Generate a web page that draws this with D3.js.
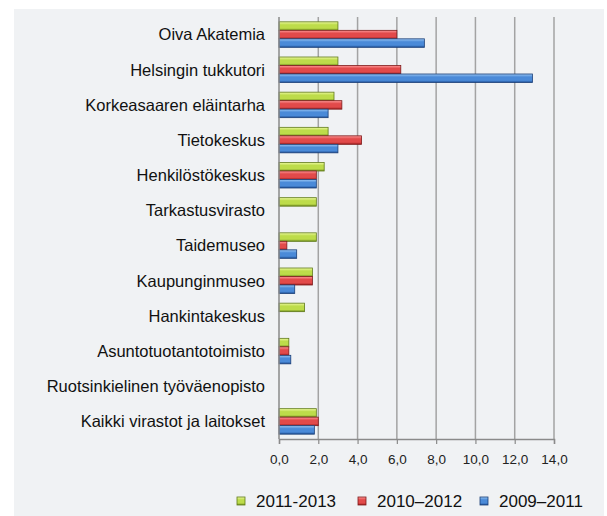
<!DOCTYPE html>
<html><head><meta charset="utf-8">
<script src="https://cdn.jsdelivr.net/npm/d3@7"></script>
<style>html,body{margin:0;padding:0;background:#fff;}svg{display:block;}</style>
</head><body>
<svg id="c" width="607" height="516"></svg>
<script>
const categories = ["Oiva Akatemia","Helsingin tukkutori","Korkeasaaren eläintarha","Tietokeskus","Henkilöstökeskus","Tarkastusvirasto","Taidemuseo","Kaupunginmuseo","Hankintakeskus","Asuntotuotantotoimisto","Ruotsinkielinen työväenopisto","Kaikki virastot ja laitokset"];
const seriesNames = ["2011-2013","2010–2012","2009–2011"];
const s2011_2013 = [3.0, 3.0, 2.8, 2.5, 2.3, 1.9, 1.9, 1.7, 1.3, 0.5, 0, 1.9];
const s2010_2012 = [6.0, 6.2, 3.2, 4.2, 1.9, 0, 0.4, 1.7, 0, 0.5, 0, 2.0];
const s2009_2011 = [7.4, 12.9, 2.5, 3.0, 1.9, 0, 0.9, 0.8, 0, 0.6, 0, 1.8];
const xTicks = [0,2,4,6,8,10,12,14];

const seriesValues = [s2011_2013, s2010_2012, s2009_2011];
const palettes = [
  {top:"#eefaa0", mid:"#bddc4a", bot:"#6f8c1e", edge:"#5f7a18"},
  {top:"#ff9a9a", mid:"#e24a4a", bot:"#9c1f1f", edge:"#7e1a1a"},
  {top:"#9cc9f5", mid:"#4a8ad8", bot:"#1e4e94", edge:"#1a3f78"}
];

const svg = d3.select("#c");
svg.append("rect").attr("x",14).attr("y",9).attr("width",590).attr("height",507).attr("fill","#f0f2f4");

const defs = svg.append("defs");
palettes.forEach((p,i)=>{
  const g = defs.append("linearGradient").attr("id","g"+i).attr("x1",0).attr("y1",0).attr("x2",0).attr("y2",1);
  g.append("stop").attr("offset","0%").attr("stop-color",p.top);
  g.append("stop").attr("offset","35%").attr("stop-color",p.mid);
  g.append("stop").attr("offset","75%").attr("stop-color",p.mid);
  g.append("stop").attr("offset","100%").attr("stop-color",p.bot);
});

const x = d3.scaleLinear().domain([0,14]).range([279,554]);
const y = d3.scaleBand().domain(categories).range([17,439]).paddingInner(0.275).paddingOuter(0.1375);
const ys = d3.scaleBand().domain(d3.range(3)).range([0,y.bandwidth()]);

// gridlines
svg.append("g").selectAll("line").data(xTicks.slice(1)).join("line")
  .attr("x1",d=>x(d)).attr("x2",d=>x(d)).attr("y1",17).attr("y2",439)
  .attr("stroke","#a3a3a3").attr("stroke-width",1.5);

// bars
const groups = svg.append("g").selectAll("g").data(categories).join("g")
  .attr("transform",c=>`translate(0,${y(c)})`);
groups.each(function(c,ci){
  const g = d3.select(this);
  seriesValues.forEach((vals,si)=>{
    const v = vals[ci];
    if(v<=0) return;
    const w = x(v)-x(0);
    g.append("rect").attr("x",x(0)).attr("y",ys(si)).attr("width",w).attr("height",ys.bandwidth())
      .attr("fill",`url(#g${si})`).attr("stroke",palettes[si].edge).attr("stroke-width",0.8);
  });
});

// x axis
const xAxis = d3.axisBottom(x).tickValues(xTicks).tickSize(5).tickPadding(10)
  .tickFormat(d=>d3.format(".1f")(d).replace(".",","));
const ax = svg.append("g").attr("transform","translate(0,439)").call(xAxis);
ax.select(".domain").attr("stroke","#8a8a8a").attr("stroke-width",1.5);
ax.selectAll(".tick line").attr("stroke","#8a8a8a").attr("stroke-width",1.2);
ax.selectAll("text").attr("font-family","'Liberation Sans', Arial, sans-serif").attr("font-size",13.5).attr("fill","#222");

// y axis line
svg.append("line").attr("x1",279).attr("x2",279).attr("y1",17).attr("y2",439).attr("stroke","#8a8a8a").attr("stroke-width",1.5);

// category labels
svg.append("g").selectAll("text").data(categories).join("text")
  .attr("x",265).attr("y",c=>y(c)+y.bandwidth()/2).attr("dy","0.35em")
  .attr("text-anchor","end").attr("font-family","'Liberation Sans', Arial, sans-serif")
  .attr("font-size",16.5).attr("fill","#111").text(c=>c);

// legend
const legendX = [237, 358, 480];
const lg = svg.append("g").selectAll("g").data(seriesNames).join("g")
  .attr("transform",(d,i)=>`translate(${legendX[i]},497)`);
lg.append("rect").attr("width",8).attr("height",8).attr("fill",(d,i)=>`url(#g${i})`)
  .attr("stroke",(d,i)=>palettes[i].edge).attr("stroke-width",0.8);
lg.append("text").attr("x",19).attr("y",4).attr("dy","0.35em")
  .attr("font-family","'Liberation Sans', Arial, sans-serif").attr("font-size",17).attr("fill","#111").text(d=>d);
</script>
</body></html>
